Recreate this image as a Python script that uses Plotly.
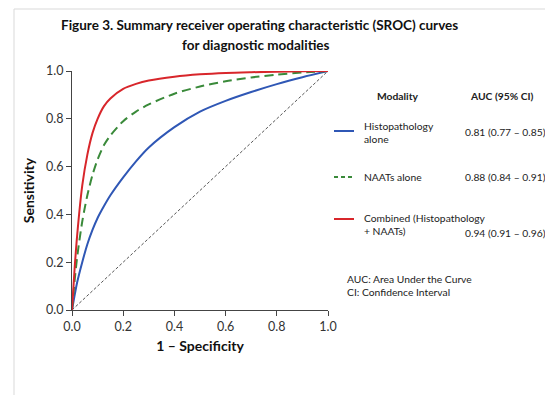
import plotly.graph_objects as go

fpr = [0, 0.01, 0.02, 0.04, 0.06, 0.08, 0.1, 0.125, 0.15, 0.2, 0.25, 0.3, 0.4, 0.5, 0.6, 0.7, 0.8, 0.9, 1.0]
histo_tpr = [0, 0.06, 0.115, 0.20, 0.275, 0.335, 0.385, 0.435, 0.48, 0.555, 0.622, 0.68, 0.765, 0.83, 0.875, 0.912, 0.945, 0.974, 1.0]
naat_tpr = [0, 0.12, 0.22, 0.37, 0.48, 0.565, 0.63, 0.69, 0.73, 0.79, 0.83, 0.86, 0.905, 0.935, 0.957, 0.973, 0.985, 0.994, 1.0]
comb_tpr = [0, 0.17, 0.31, 0.52, 0.65, 0.74, 0.80, 0.853, 0.885, 0.925, 0.946, 0.96, 0.976, 0.986, 0.992, 0.995, 0.997, 0.999, 1.0]
diag = [0, 1]

names = ["Histopathology<br>alone", "NAATs alone", "Combined (Histopathology<br>+ NAATs)"]
aucs = ["0.81 (0.77 – 0.85)", "0.88 (0.84 – 0.91)", "0.94 (0.91 – 0.96)"]
colors = ["#2f57b5", "#3a8a3a", "#d8262b"]
dashes = ["solid", "9px,5px", "solid"]
legend_dashes = ["solid", "4px,3px", "solid"]
ticks = [0, 0.2, 0.4, 0.6, 0.8, 1.0]
tick_text = ["0.0", "0.2", "0.4", "0.6", "0.8", "1.0"]

W, H = 545, 395
L, R, T, B = 72, 328, 71, 310  # pixel positions of the plot area

def px(x):
    return (x - L) / (R - L)

def py(y):
    return (B - y) / (B - T)

FONT = "Lato"
LEG = 10.3
fig = go.Figure()
fig.add_trace(go.Scatter(x=diag, y=diag, mode="lines",
                         line=dict(color="#555555", width=1, dash="3px,2px"), showlegend=False, hoverinfo="skip"))
for ys, c, d in zip([histo_tpr, naat_tpr, comb_tpr], colors, dashes):
    fig.add_trace(go.Scatter(x=fpr, y=ys, mode="lines", line_shape="spline",
                             line=dict(color=c, width=2, dash=d, smoothing=0.8), showlegend=False))

shapes = [
    dict(type="rect", xref="paper", yref="paper", x0=px(14), x1=px(600), y0=py(420), y1=py(9),
         line=dict(color="#d9d9d9", width=1), fillcolor="rgba(0,0,0,0)", layer="below"),
]
annotations = [
    dict(text="<b>Figure 3. Summary receiver operating characteristic (SROC) curves</b>", x=px(259), y=py(25),
         xref="paper", yref="paper", showarrow=False, font=dict(size=13.5, color="#111"), xanchor="center", yanchor="middle"),
    dict(text="<b>for diagnostic modalities</b>", x=px(256), y=py(45),
         xref="paper", yref="paper", showarrow=False, font=dict(size=13.5, color="#111"), xanchor="center", yanchor="middle"),
    dict(text="<b>Modality</b>", x=px(398), y=py(96), xref="paper", yref="paper", showarrow=False,
         font=dict(size=LEG, color="#222"), xanchor="center", yanchor="middle"),
    dict(text="<b>AUC (95% CI)</b>", x=px(502), y=py(96), xref="paper", yref="paper", showarrow=False,
         font=dict(size=LEG, color="#222"), xanchor="center", yanchor="middle"),
    dict(text="AUC: Area Under the Curve<br>CI: Confidence Interval", x=px(345), y=py(285), xref="paper", yref="paper",
         showarrow=False, font=dict(size=LEG, color="#222"), xanchor="left", yanchor="middle", align="left"),
]
line_y = [131, 177, 219]
name_y = [132, 177, 224]
auc_y = [132, 177, 233]
for i in range(3):
    shapes.append(dict(type="line", xref="paper", yref="paper", x0=px(334), x1=px(354), y0=py(line_y[i]), y1=py(line_y[i]),
                       line=dict(color=colors[i], width=2, dash=legend_dashes[i])))
    annotations.append(dict(text=names[i], x=px(362), y=py(name_y[i]), xref="paper", yref="paper", showarrow=False,
                            font=dict(size=LEG, color="#222"), xanchor="left", yanchor="middle", align="left"))
    annotations.append(dict(text=aucs[i], x=px(463), y=py(auc_y[i]), xref="paper", yref="paper", showarrow=False,
                            font=dict(size=LEG, color="#222"), xanchor="left", yanchor="middle", align="left"))

axis_common = dict(range=[0, 1], tickvals=ticks, ticktext=tick_text, showgrid=False, zeroline=False,
                   showline=True, linecolor="#444", linewidth=1.2, ticks="outside", ticklen=5, tickcolor="#444",
                   tickfont=dict(size=12.5, color="#333", family=FONT))
fig.update_layout(
    width=W, height=H, margin=dict(l=L, r=W - R, t=T, b=H - B),
    paper_bgcolor="white", plot_bgcolor="white", font=dict(family=FONT),
    xaxis=dict(**axis_common, title=dict(text="<b>1 – Specificity</b>", font=dict(size=14, color="#111"), standoff=8)),
    yaxis=dict(**axis_common, title=dict(text="<b>Sensitivity</b>", font=dict(size=14, color="#111"), standoff=8)),
    shapes=shapes, annotations=annotations, showlegend=False,
)
fig.write_html("out.html", config={"displayModeBar": False},
               post_script="document.body.style.margin='0';")
